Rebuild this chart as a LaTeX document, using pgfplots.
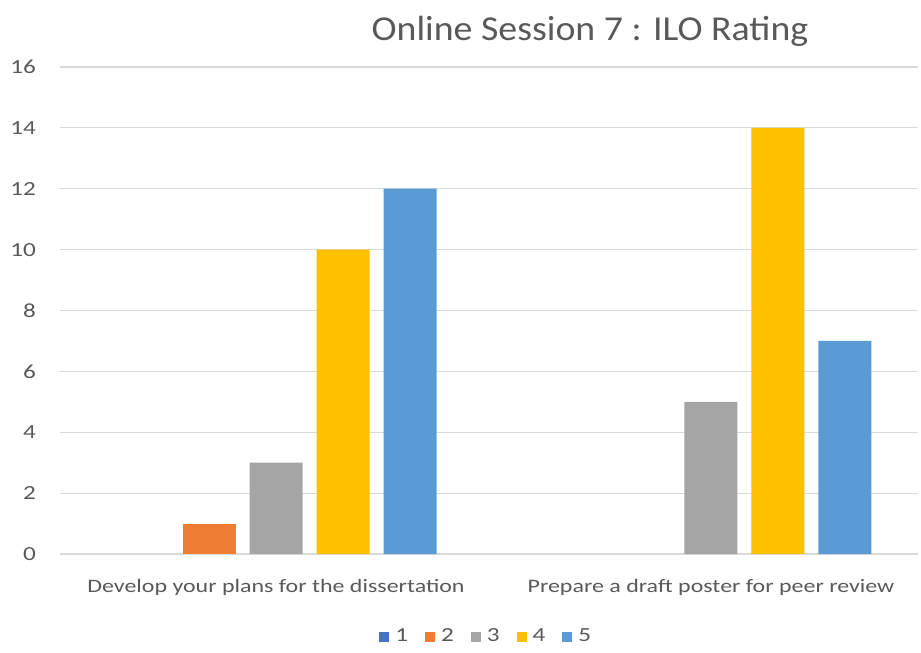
\documentclass[border=0pt]{standalone}
\usepackage{pgfplots}
\pgfplotsset{compat=1.18}
\usepackage{fontspec}
\setmainfont{Carlito}
\newfontfamily\wide[FakeStretch=1.26]{Carlito}
\newfontfamily\titlefont[FakeStretch=1.08]{Carlito}
\definecolor{s1}{HTML}{4472C4}
\definecolor{s2}{HTML}{ED7D31}
\definecolor{s3}{HTML}{A5A5A5}
\definecolor{s4}{HTML}{FFC000}
\definecolor{s5}{HTML}{5B9BD5}
\definecolor{txt}{HTML}{595959}
\definecolor{gridc}{HTML}{D9D9D9}
\begin{document}
\begin{tikzpicture}
\useasboundingbox (-30pt,-49.5pt) rectangle (430.5pt,277pt);
\begin{axis}[
  at={(0,0)}, anchor=south west,
  scale only axis, width=429pt, height=243.5pt,
  ybar=7pt, bar width=26.5pt,
  xmin=-0.4966, xmax=1.476,
  ymin=0, ymax=16, ytick={0,2,...,16},
  xtick={0,1},
  xticklabels={Develop your plans for the dissertation, Prepare a draft poster for peer review},
  axis line style={draw=none},
  tick style={draw=none},
  xmajorgrids=false,
  ymajorgrids, grid style={draw=gridc, line width=0.6pt},
  ticklabel style={font=\wide\fontsize{9.5}{11}\selectfont, text=txt},
  yticklabel style={xshift=-8.5pt, font=\wide\fontsize{10}{12}\selectfont},
  xticklabel style={yshift=-5pt},
  /pgf/number format/assume math mode=true,
  legend style={at={(0.498,-0.170)}, anchor=center, draw=none, fill=none,
    legend columns=5, font=\wide\fontsize{10}{12}\selectfont, text=txt,
    /tikz/every odd column/.append style={column sep=1pt},
    /tikz/every even column/.append style={column sep=6.5pt}},
  legend image code/.code={\fill[#1, fill opacity=1] (0pt,-2.5pt) rectangle (5pt,2.5pt);},
]
\draw[gridc, line width=0.8pt] (rel axis cs:0,0) -- (rel axis cs:1,0);
\addplot[fill=s1, draw=none, fill opacity=0] coordinates {(0,0) (1,0)};
\addplot[fill=s2, draw=none, restrict y to domain=0.001:20] coordinates {(0,1) (1,0)};
\addplot[fill=s3, draw=none] coordinates {(0,3) (1,5)};
\addplot[fill=s4, draw=none] coordinates {(0,10) (1,14)};
\addplot[fill=s5, draw=none] coordinates {(0,12) (1,7)};
\legend{1,2,3,4,5}
\end{axis}
\node[text=txt, font=\titlefont\fontsize{17.5}{20}\selectfont] at (265pt,261.5pt) {Online Session 7 : ILO Rating};
\end{tikzpicture}
\end{document}
